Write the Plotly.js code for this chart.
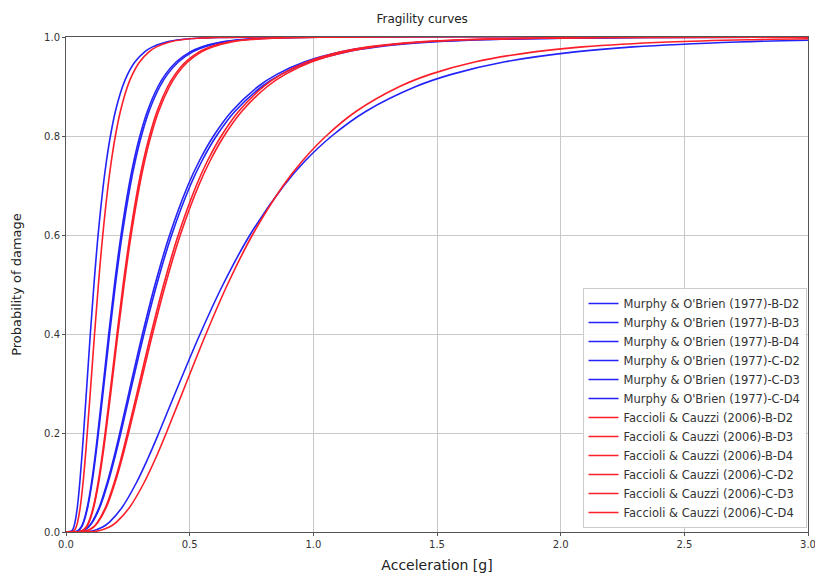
<!DOCTYPE html>
<html>
<head>
<meta charset="utf-8">
<script src="https://cdn.plot.ly/plotly-3.0.1.min.js"></script>
<style>html,body{margin:0;padding:0;background:#fff;}#chart{width:815px;height:573px;}</style>
</head>
<body>
<div id="chart"></div>
<script>
// Probability levels at which the acceleration of each curve was read
const probLevels = [0, 0.002, 0.01, 0.02, 0.05, 0.1, 0.15, 0.2, 0.3, 0.4, 0.5, 0.6, 0.7, 0.75, 0.8, 0.85, 0.9, 0.925, 0.95, 0.97, 0.98, 0.99, 0.995, 0.999, 1.0];

// Murphy & O'Brien (1977) — acceleration [g] at each probability level
const mo_B_D2 = [0, 0.0232, 0.0314, 0.0365, 0.0458, 0.0558, 0.0639, 0.0711, 0.0848, 0.0983, 0.113, 0.1298, 0.1507, 0.1637, 0.1796, 0.1998, 0.2287, 0.2495, 0.2793, 0.3180, 0.3498, 0.4060, 0.4661, 0.6186, 3.0];
const mo_B_D3 = [0, 0.0465, 0.0613, 0.0702, 0.0860, 0.1033, 0.1168, 0.1286, 0.1509, 0.1727, 0.196, 0.2225, 0.2548, 0.2746, 0.2987, 0.3291, 0.3720, 0.4026, 0.4461, 0.5020, 0.5474, 0.6272, 0.7107, 0.9188, 3.0];
const mo_B_D4 = [0, 0.0641, 0.0892, 0.1051, 0.1343, 0.1667, 0.1934, 0.2174, 0.2628, 0.3092, 0.36, 0.4190, 0.4928, 0.5394, 0.5965, 0.6703, 0.7769, 0.8542, 0.9659, 1.1128, 1.2341, 1.4533, 1.6891, 2.2986, 3.0];
const mo_C_D2 = [0, 0.0474, 0.0625, 0.0716, 0.0878, 0.1054, 0.1191, 0.1312, 0.1540, 0.1762, 0.200, 0.2270, 0.2600, 0.2802, 0.3048, 0.3358, 0.3796, 0.4108, 0.4552, 0.5122, 0.5586, 0.6400, 0.7252, 0.9376, 3.0];
const mo_C_D3 = [0, 0.0653, 0.0909, 0.1072, 0.1369, 0.1699, 0.1971, 0.2217, 0.2679, 0.3153, 0.367, 0.4272, 0.5024, 0.5499, 0.6081, 0.6834, 0.7920, 0.8708, 0.9847, 1.1345, 1.2581, 1.4816, 1.7220, 2.3433, 3.0];
const mo_C_D4 = [0, 0.1051, 0.1483, 0.1758, 0.2271, 0.2851, 0.3324, 0.3753, 0.4576, 0.5422, 0.635, 0.7437, 0.8811, 0.9674, 1.0745, 1.2133, 1.4147, 1.5618, 1.7751, 2.0583, 2.2930, 2.7180, 3.0];
const mo_C_D4_prob = [0, 0.002, 0.01, 0.02, 0.05, 0.1, 0.15, 0.2, 0.3, 0.4, 0.5, 0.6, 0.7, 0.75, 0.8, 0.85, 0.9, 0.925, 0.95, 0.97, 0.98, 0.99, 0.9935];

// Faccioli & Cauzzi (2006)
const fc_B_D2 = [0, 0.0311, 0.0409, 0.0469, 0.0575, 0.0691, 0.0780, 0.0859, 0.1008, 0.1154, 0.131, 0.1487, 0.1703, 0.1835, 0.1996, 0.2200, 0.2486, 0.2691, 0.2982, 0.3355, 0.3659, 0.4192, 0.4751, 0.6142, 3.0];
const fc_B_D3 = [0, 0.0633, 0.0811, 0.0917, 0.1102, 0.1298, 0.1449, 0.1582, 0.1825, 0.2061, 0.231, 0.2590, 0.2924, 0.3128, 0.3375, 0.3682, 0.4114, 0.4417, 0.4842, 0.5385, 0.5819, 0.6579, 0.7362, 0.9284, 3.0];
const fc_B_D4 = [0, 0.0810, 0.1099, 0.1276, 0.1600, 0.1951, 0.2234, 0.2485, 0.2963, 0.3437, 0.395, 0.4539, 0.5270, 0.5722, 0.6277, 0.6984, 0.7995, 0.8722, 0.9764, 1.1116, 1.2230, 1.4193, 1.6294, 2.1623, 3.0];
const fc_C_D2 = [0, 0.0644, 0.0825, 0.0933, 0.1121, 0.1321, 0.1474, 0.1610, 0.1857, 0.2096, 0.235, 0.2634, 0.2975, 0.3182, 0.3433, 0.3746, 0.4185, 0.4493, 0.4926, 0.5478, 0.5920, 0.6693, 0.7489, 0.9445, 3.0];
const fc_C_D3 = [0, 0.0825, 0.1119, 0.1299, 0.1629, 0.1986, 0.2275, 0.2530, 0.3016, 0.3499, 0.4022, 0.4621, 0.5365, 0.5827, 0.6391, 0.7111, 0.8140, 0.8880, 0.9942, 1.1318, 1.2452, 1.4451, 1.6590, 2.2016, 3.0];
const fc_C_D4 = [0, 0.1281, 0.1751, 0.2042, 0.2574, 0.3161, 0.3633, 0.4054, 0.4854, 0.5659, 0.653, 0.7536, 0.8785, 0.9563, 1.0517, 1.1738, 1.3490, 1.4751, 1.6567, 1.8934, 2.0884, 2.4358, 2.8061, 3.0];
const fc_C_D4_prob = [0, 0.002, 0.01, 0.02, 0.05, 0.1, 0.15, 0.2, 0.3, 0.4, 0.5, 0.6, 0.7, 0.75, 0.8, 0.85, 0.9, 0.925, 0.95, 0.97, 0.98, 0.99, 0.995, 0.9965];

const seriesNames = [
  "Murphy & O'Brien (1977)-B-D2", "Murphy & O'Brien (1977)-B-D3", "Murphy & O'Brien (1977)-B-D4",
  "Murphy & O'Brien (1977)-C-D2", "Murphy & O'Brien (1977)-C-D3", "Murphy & O'Brien (1977)-C-D4",
  "Faccioli & Cauzzi (2006)-B-D2", "Faccioli & Cauzzi (2006)-B-D3", "Faccioli & Cauzzi (2006)-B-D4",
  "Faccioli & Cauzzi (2006)-C-D2", "Faccioli & Cauzzi (2006)-C-D3", "Faccioli & Cauzzi (2006)-C-D4"
];
const seriesX = [mo_B_D2, mo_B_D3, mo_B_D4, mo_C_D2, mo_C_D3, mo_C_D4, fc_B_D2, fc_B_D3, fc_B_D4, fc_C_D2, fc_C_D3, fc_C_D4];
const seriesY = [probLevels, probLevels, probLevels, probLevels, probLevels, mo_C_D4_prob,
                 probLevels, probLevels, probLevels, probLevels, probLevels, fc_C_D4_prob];

const BLUE = 'rgb(35,35,248)';
const RED = 'rgb(252,30,40)';

const traces = seriesNames.map((n, i) => ({
  x: seriesX[i], y: seriesY[i], name: n, type: 'scatter', mode: 'lines',
  line: {color: i < 6 ? BLUE : RED, width: 1.6, shape: 'spline', smoothing: 1.0}
}));

const FONT = 'DejaVu Sans, sans-serif';
const layout = {
  width: 815, height: 573,
  margin: {l: 66, r: 7, t: 37, b: 41},
  paper_bgcolor: '#fff', plot_bgcolor: '#fff',
  font: {family: FONT, size: 10, color: '#333'},
  title: {text: 'Fragility curves', font: {family: FONT, size: 12, color: '#222'}, x: 0.518, xanchor: 'center', y: 0.968, yanchor: 'middle'},
  xaxis: {
    range: [0, 3.0], dtick: 0.5, tick0: 0, tickformat: '.1f',
    showgrid: true, gridcolor: '#c8c8c8', gridwidth: 1,
    showline: true, linecolor: '#555', linewidth: 1, mirror: true,
    ticks: 'outside', ticklen: 3, tickcolor: '#555',
    zeroline: false, tickfont: {size: 10, color: '#333'}, ticklabeloverflow: 'allow',
    title: {text: 'Acceleration [g]', font: {family: FONT, size: 14, color: '#222'}, standoff: 13}
  },
  yaxis: {
    range: [0, 1.0], dtick: 0.2, tick0: 0, tickformat: '.1f',
    showgrid: true, gridcolor: '#c8c8c8', gridwidth: 1,
    showline: true, linecolor: '#555', linewidth: 1, mirror: true,
    ticks: 'outside', ticklen: 3, tickcolor: '#555',
    zeroline: false, tickfont: {size: 10, color: '#333'},
    title: {text: 'Probability of damage', font: {family: FONT, size: 13, color: '#222'}, standoff: 19}
  },
  showlegend: true,
  legend: {
    x: 0.998, xanchor: 'right', y: 0.008, yanchor: 'bottom',
    bgcolor: 'rgba(255,255,255,0.9)', bordercolor: '#cccccc', borderwidth: 1,
    font: {family: FONT, size: 11.5, color: '#333'},
    tracegroupgap: 0, itemwidth: 30
  }
};

Plotly.newPlot('chart', traces, layout, {displayModeBar: false, staticPlot: true});
</script>
</body>
</html>
